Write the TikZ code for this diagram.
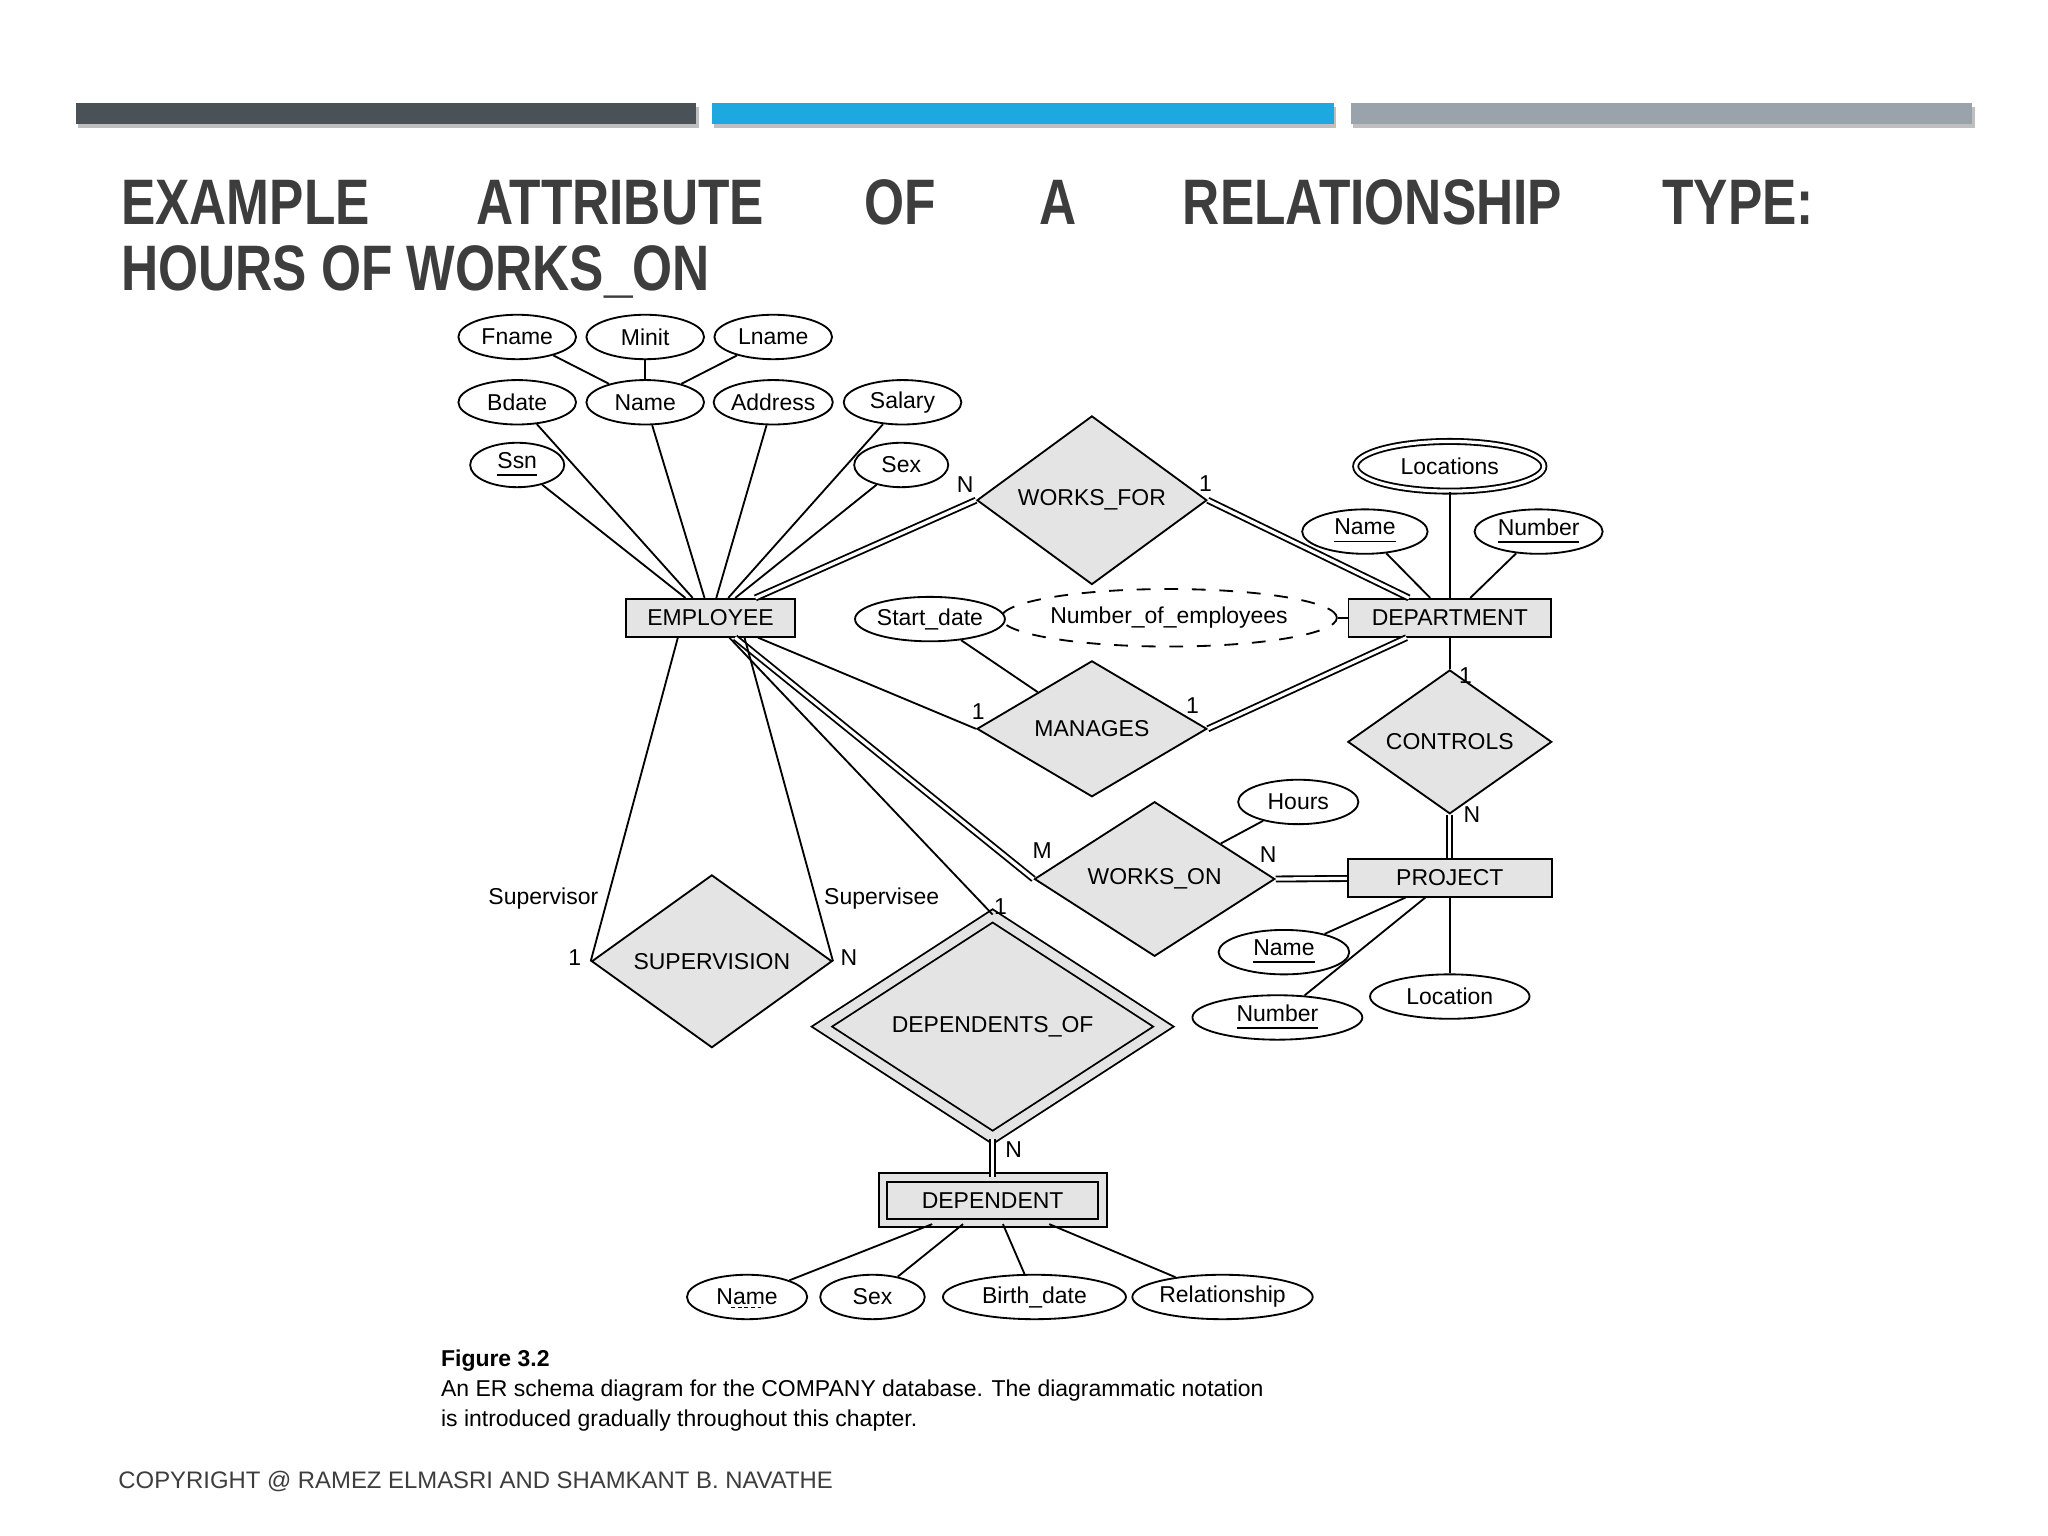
\documentclass[tikz,border=0pt]{standalone}
\usepackage{fontspec}
\setmainfont{Liberation Sans}
\usetikzlibrary{shapes.geometric}
\definecolor{bardark}{HTML}{4A5258}
\definecolor{barblue}{HTML}{1EA8E0}
\definecolor{bargray}{HTML}{9AA3AB}
\definecolor{titlegray}{HTML}{3D3D3D}
\definecolor{boxfill}{HTML}{E4E4E4}
\tikzset{
  entity/.style={draw, fill=boxfill, rectangle, inner sep=0pt, minimum height=0.29cm},
  rel/.style={draw, fill=boxfill, diamond, inner sep=0pt},
  attr/.style={draw, fill=white, ellipse, inner sep=0pt, minimum height=0.34cm},
  dbl/.style={double, double distance=0.025cm},
  lbl/.style={inner sep=0pt},
  ttl/.style={inner sep=0pt, anchor=west, text=titlegray, font=\fontsize{14}{16}\selectfont\bfseries}
}
\newcommand{\ttlword}[1]{\scalebox{0.8}[1]{#1}}
\begin{document}
\begin{tikzpicture}[x=0.01cm, y=-0.01cm, font=\fontsize{5}{6}\selectfont]
\useasboundingbox (0,0) rectangle (1568,1176);
% bars
\fill[black!25] (60,82) rectangle (535,98);
\fill[black!25] (547,82) rectangle (1023,98);
\fill[black!25] (1036,82) rectangle (1512,98);
\fill[bardark] (58,79) rectangle (533,95);
\fill[barblue] (545,79) rectangle (1021,95);
\fill[bargray] (1034,79) rectangle (1510,95);
% title
\node[ttl] (t1) at (92,155) {\ttlword{EXAMPLE}};
\node[ttl] (t2) at (364,155) {\ttlword{ATTRIBUTE}};
\node[ttl] (t3) at (661,155) {\ttlword{OF}};
\node[ttl] (t4) at (795,155) {\ttlword{A}};
\node[ttl] (t5) at (905,155) {\ttlword{RELATIONSHIP}};
\node[ttl] (t6) at (1272,155) {\ttlword{TYPE:}};
\node[ttl] (t7) at (92,208) {\ttlword{HOURS OF WORKS\_ON}};

% employee side
\node[entity, minimum width=1.29cm] (emp) at (544,473) {EMPLOYEE};
\node[attr, minimum width=0.9cm] (fname) at (396,258) {Fname};
\node[attr, minimum width=0.9cm] (minit) at (494,258) {Minit};
\node[attr, minimum width=0.9cm] (lname) at (592,258) {Lname};
\node[attr, minimum width=0.9cm] (bdate) at (396,308) {Bdate};
\node[attr, minimum width=0.9cm] (ename) at (494,308) {Name};
\node[attr, minimum width=0.9cm] (addr) at (592,308) {Address};
\node[attr, minimum width=0.9cm] (salary) at (691,308) {Salary};
\node[attr, minimum width=0.72cm] (ssn) at (396,356) {\underline{Ssn}};
\node[attr, minimum width=0.72cm] (esex) at (690,356) {Sex};
\foreach \a in {fname,minit,lname} \draw (\a) -- (ename);
\foreach \a in {bdate,ename,addr,salary,ssn,esex} \draw (\a) -- (emp);

% department side
\node[entity, minimum width=1.55cm] (dept) at (1110,473) {DEPARTMENT};
\node[attr, dbl, minimum width=1.44cm, minimum height=0.38cm] (locs) at (1110,357) {Locations};
\node[attr, minimum width=0.96cm] (dname) at (1045,407) {\underline{Name}};
\node[attr, minimum width=0.98cm] (dnum) at (1178,407) {\underline{Number}};
\node[attr, dashed, minimum width=2.1cm, minimum height=0.44cm] (nemp) at (895,473) {Number\_of\_employees};
\foreach \a in {locs,dname,dnum} \draw (\a) -- (dept);
\draw (nemp) -- (dept);

% relationships
\node[rel, minimum width=1.76cm, minimum height=1.1cm] (wf) at (836,383) {WORKS\_FOR};
\draw[dbl] (emp) -- (wf.west);
\draw[dbl] (wf.east) -- (dept);
\node[lbl] (wfn) at (739,371) {N};
\node[lbl] (wf1) at (923,370) {1};

\node[attr, minimum width=1.0cm] (sdate) at (712,474) {Start\_date};
\node[rel, minimum width=1.76cm, minimum height=1.04cm] (mgr) at (836,558) {MANAGES};
\draw (sdate) -- (mgr);
\draw (emp) -- (mgr.west);
\draw[dbl] (mgr.east) -- (dept);
\node[lbl] (mg1a) at (749,545) {1};
\node[lbl] (mg1b) at (913,540) {1};

\node[rel, minimum width=1.56cm, minimum height=0.94cm] (ctrl) at (1110,568) {CONTROLS};
\node[entity, minimum width=1.56cm] (proj) at (1110,672) {PROJECT};
\draw (dept) -- (ctrl);
\draw[dbl] (ctrl) -- (proj);
\node[lbl] (ct1) at (1122,517) {1};
\node[lbl] (ctn) at (1127,624) {N};

\node[rel, minimum width=1.84cm, minimum height=1.1cm] (won) at (884,673) {WORKS\_ON};
\node[attr, minimum width=0.92cm] (hours) at (994,614) {Hours};
\draw[dbl] (emp) -- (won.west);
\draw[dbl] (won.east) -- (proj);
\draw (hours) -- (won);
\node[lbl] (wom) at (798,651) {M};
\node[lbl] (won2) at (971,654) {N};

\node[attr, minimum width=1.0cm] (pname) at (983,729) {\underline{Name}};
\node[attr, minimum width=1.3cm] (pnum) at (978,779) {\underline{Number}};
\node[attr, minimum width=1.22cm] (ploc) at (1110,763) {Location};
\foreach \a in {pname,pnum,ploc} \draw (\a) -- (proj);

\node[rel, minimum width=1.84cm, minimum height=1.1cm] (sup) at (545,736) {SUPERVISION};
\draw ([xshift=-0.25cm]emp.south) -- (sup.west);
\draw ([xshift=0.26cm]emp.south) -- (sup.east);
\node[lbl] (svr) at (416,688) {Supervisor};
\node[lbl] (sve) at (675,688) {Supervisee};
\node[lbl] (sv1) at (440,733) {1};
\node[lbl] (svn) at (650,733) {N};

\node[rel, dbl, double=boxfill, double distance=0.07cm, minimum width=2.62cm, minimum height=1.52cm] (depof) at (760,786) {DEPENDENTS\_OF};
\draw (emp) -- (depof.north);
\node[lbl] (do1) at (766,694) {1};
\node[entity, dbl, double=boxfill, double distance=0.05cm, minimum width=1.68cm, minimum height=0.35cm] (dep) at (760,919) {DEPENDENT};
\draw[dbl] (depof) -- (dep);
\node[lbl] (don) at (776,880) {N};

\node[attr, minimum width=0.92cm] (dpname) at (572,993) {Name};
\draw[dashed, dash pattern=on 0.03cm off 0.02cm] ([shift={(-12,8)}]dpname.center) -- ([shift={(12,8)}]dpname.center);
\node[attr, minimum width=0.8cm] (dpsex) at (668,993) {Sex};
\node[attr, minimum width=1.4cm] (bdt) at (792,993) {Birth\_date};
\node[attr, minimum width=1.38cm] (relship) at (936,993) {Relationship};
\foreach \a in {dpname,dpsex,bdt,relship} \draw (\a) -- (dep);

% caption
\node[lbl, anchor=west, font=\fontsize{5}{6}\selectfont\bfseries] (figno) at (337,1042) {Figure 3.2};
\node[lbl, anchor=west] (cap1) at (337,1065) {An ER schema diagram for the COMPANY database. The diagrammatic notation};
\node[lbl, anchor=west] (cap2) at (337,1088) {is introduced gradually throughout this chapter.};
\node[lbl, anchor=west, text=titlegray, font=\fontsize{5.2}{6}\selectfont] (copy) at (90,1134) {COPYRIGHT @ RAMEZ ELMASRI AND SHAMKANT B. NAVATHE};
\end{tikzpicture}
\end{document}
